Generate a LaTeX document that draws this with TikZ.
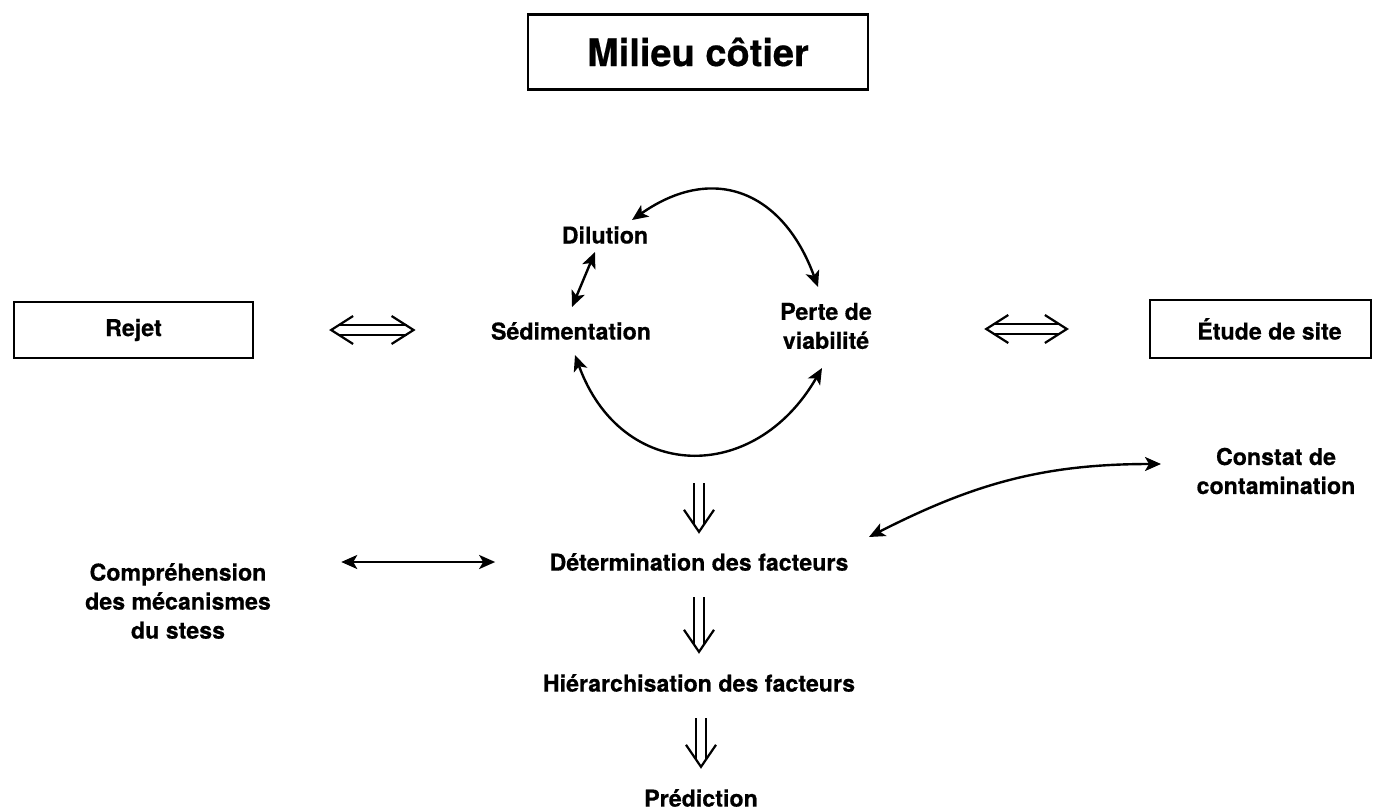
\documentclass[tikz,border=0pt]{standalone}
\usepackage{fontspec}
\setmainfont{TeX Gyre Heros}[BoldFeatures={FakeBold=0.5}]
\usetikzlibrary{arrows.meta}
\begin{document}
\begin{tikzpicture}[x=0.5pt,y=-0.5pt,
  lbl/.style={font=\bfseries\fontsize{11.6}{14.5}\selectfont, align=center, inner sep=2pt},
  box/.style={lbl, draw, line width=1.1pt},
  tip/.tip={Stealth[length=8pt,width=7pt,inset=2pt]},
  link/.style={line width=1.2pt, tip-tip},
  % open double arrows: a double shaft and open chevron heads
  shaft/.style={double, double distance=3.6pt, line width=1pt},
  chev/.tip={Straight Barb[black, line width=1.1pt, length=11pt, width=14pt]},
  chevd/.tip={Straight Barb[black, line width=1.1pt, length=11pt, width=15pt]},
  heads/.style={white, line width=1pt, chev-chev},
  dshaft/.style={double, double distance=4.3pt, line width=1pt},
  dhead/.style={white, line width=1pt, -chevd},
]
\useasboundingbox (0,0) rectangle (1373,809);

% boxes
\node[box, minimum width=170pt, minimum height=37.5pt,
      font=\bfseries\fontsize{19}{22}\selectfont] (milieu) at (698,52) {Milieu côtier};
\node[box, minimum width=119.5pt, minimum height=28pt] (rejet) at (133.5,330) {Rejet};
\node[box, minimum width=110.5pt, minimum height=29pt] (etude) at (1260.5,329) {\hspace*{9pt}Étude de site};

% cycle
\node[lbl] (dil) at (605,235) {Dilution};
\node[lbl] (sed) at (571,331) {Sédimentation};
\node[lbl] (perte) at (826,326) {Perte de\\viabilité};

% chain
\node[lbl] (det) at (699,562) {Détermination des facteurs};
\node[lbl] (hier) at (699,683) {Hiérarchisation des facteurs};
\node[lbl] (pred) at (701,798) {Prédiction};
\node[lbl] (comp) at (178,601) {Compréhension\\des mécanismes\\du stess};
\node[lbl] (const) at (1276,471) {Constat de\\contamination};

% cycle arrows
\draw[link] ([shift={(27,-15)}]dil.center) to[out=35, in=110, looseness=1.3] ([shift={(-8,-39)}]perte.center);
\draw[link] ([shift={(4,24)}]sed.center) to[out=-70, in=-120, looseness=1.4] ([shift={(-4,42)}]perte.center);
\draw[link] ([shift={(-10,17)}]dil.center) -- ([shift={(1,-24)}]sed.center);

% side exchanges
\draw[shaft, shorten <=42pt, shorten >=40pt] (rejet.east) -- (rejet.east -| sed.west);
\draw[heads, shorten <=37.5pt, shorten >=35.5pt] (rejet.east) -- (rejet.east -| sed.west);
\draw[shaft, shorten <=58.5pt, shorten >=44.5pt] (perte.east |- etude.west) -- (etude.west);
\draw[heads, shorten <=54pt, shorten >=40pt] (perte.east |- etude.west) -- (etude.west);
\draw[link, shorten <=33pt, shorten >=25pt] (comp.east |- det.west) -- (det.west);
\draw[link] ([shift={(170,-25)}]det.center) to[out=27, in=180] ([shift={(-115,-7)}]const.center);

% downward chain
\coordinate (cyc) at (699,483);
\draw[dshaft, shorten >=12pt] (cyc) -- (det.north);
\draw[dhead, shorten >=7.5pt] (cyc) -- (det.north);
\draw[dshaft, shorten <=11pt, shorten >=12.5pt] (det.south) -- (hier.north);
\draw[dhead, shorten <=11pt, shorten >=8pt] (det.south) -- (hier.north);
\draw[dshaft, shorten <=11pt, shorten >=12.5pt] (hier.south -| pred.north) -- (pred.north);
\draw[dhead, shorten <=11pt, shorten >=8pt] (hier.south -| pred.north) -- (pred.north);
\end{tikzpicture}
\end{document}
